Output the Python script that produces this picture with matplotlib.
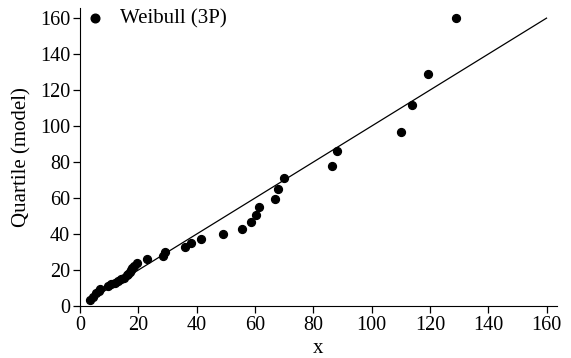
import matplotlib.pyplot as plt
import numpy as np

plt.rcParams['font.family'] = ['Liberation Serif', 'DejaVu Serif']

# data
x_data = [3.5, 4.5, 5.5, 6.5, 7, 9.5, 10.5, 12, 13, 14, 15, 16, 16.5, 17, 17.5,
          18, 18.5, 19.5, 23, 28.5, 29, 36, 38, 41.5, 49, 55.5, 58.5, 60.5,
          61.5, 67, 68, 70, 86.3, 88, 110, 114, 119.5, 129]
q_model = [3.5, 5, 7, 8.5, 9.5, 11, 12, 13, 14, 15, 15.5, 17, 18, 19, 20,
           21, 22, 24, 26, 28, 30, 33, 35, 37.5, 40, 43, 47, 50.5,
           55, 59.5, 65, 71, 78, 86, 96.5, 112, 129, 160]
ref_line = [3, 160]
xticks = [0, 20, 40, 60, 80, 100, 120, 140, 160]
yticks = [0, 20, 40, 60, 80, 100, 120, 140, 160]

fig = plt.figure(figsize=(5.71, 3.58), dpi=100)
ax = fig.add_axes([0.140, 0.145, 0.835, 0.832])

ax.plot(ref_line, ref_line, color='black', lw=0.9)
ax.scatter(x_data, q_model, s=32, color='black', zorder=3, label='Weibull (3P)')

ax.set_xlim(0, 163.5)
ax.set_ylim(0, 165.5)
ax.set_xticks(xticks)
ax.set_yticks(yticks)
ax.spines['top'].set_visible(False)
ax.spines['right'].set_visible(False)
ax.tick_params(labelsize=14.5, length=5, width=0.9, color='black', pad=2)
ax.set_xlabel('x', fontsize=15, labelpad=3)
ax.set_ylabel('Quartile (model)', fontsize=15, labelpad=6)

ax.legend(loc='upper left', bbox_to_anchor=(0.0, 1.012), frameon=False,
          fontsize=15, handlelength=1, handletextpad=0.7, borderpad=0.2,
          borderaxespad=0, scatterpoints=1, markerscale=1.1)

fig.savefig('out.png', dpi=100)
